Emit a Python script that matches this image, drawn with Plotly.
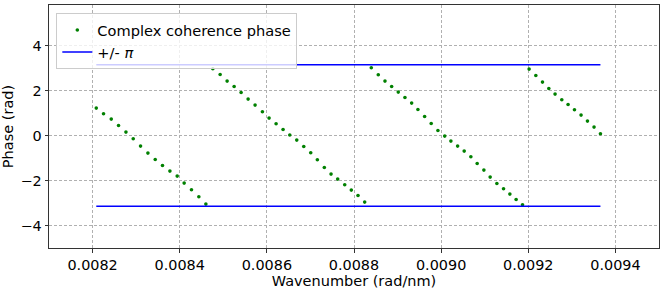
import plotly.graph_objects as go
import math

# Wavenumber (rad/nm) of each sample, four wrapped segments
wavenumber = [
    0.0082085, 0.0082252, 0.0082429, 0.0082596, 0.0082766, 0.0082933, 0.0083101, 0.0083270,
    0.0083438, 0.0083605, 0.0083775, 0.0083942, 0.0084102, 0.0084270, 0.0084439, 0.0084600,
    0.0084760, 0.0084928, 0.0085088, 0.0085249, 0.0085409, 0.0085570, 0.0085730, 0.0085898,
    0.0086051, 0.0086212, 0.0086372, 0.0086526, 0.0086686, 0.0086847, 0.0087007, 0.0087159,
    0.0087319, 0.0087473, 0.0087626, 0.0087787, 0.0087938, 0.0088092, 0.0088245,
    0.0088397, 0.0088557, 0.0088711, 0.0088864, 0.0089016, 0.0089169, 0.0089323, 0.0089467,
    0.0089621, 0.0089772, 0.0089926, 0.0090082, 0.0090224, 0.0090378, 0.0090529, 0.0090682,
    0.0090827, 0.0090981, 0.0091125, 0.0091279, 0.0091432, 0.0091577, 0.0091721, 0.0091868,
    0.0092019, 0.0092173, 0.0092326, 0.0092471, 0.0092615, 0.0092769, 0.0092913, 0.0093060,
    0.0093211, 0.0093358, 0.0093509, 0.0093656,
]

# Complex coherence phase (rad)
phase = [
    1.218, 0.964, 0.729, 0.444, 0.151, -0.147, -0.471, -0.782,
    -1.067, -1.333, -1.582, -1.804, -2.116, -2.413, -2.724, -3.049,
    2.964, 2.711, 2.418, 2.178, 1.911, 1.618, 1.351, 1.053,
    0.773, 0.520, 0.267, 0.022, -0.204, -0.489, -0.769, -1.080,
    -1.422, -1.716, -1.938, -2.191, -2.427, -2.667, -2.960,
    3.009, 2.698, 2.418, 2.178, 1.929, 1.689, 1.440, 1.156,
    0.844, 0.533, 0.222, -0.027, -0.249, -0.471, -0.693, -0.947,
    -1.244, -1.538, -1.849, -2.133, -2.369, -2.604, -2.844, -3.080,
    2.951, 2.667, 2.373, 2.089, 1.840, 1.587, 1.378, 1.142,
    0.907, 0.640, 0.373, 0.076,
]

x_ticks = [0.0082, 0.0084, 0.0086, 0.0088, 0.0090, 0.0092, 0.0094]
x_tick_labels = ["0.0082", "0.0084", "0.0086", "0.0088", "0.0090", "0.0092", "0.0094"]
y_ticks = [-4, -2, 0, 2, 4]
y_tick_labels = ["\u22124", "\u22122", "0", "2", "4"]

k_span = [wavenumber[0], wavenumber[-1]]
pi_upper = [math.pi, math.pi]
pi_lower = [-math.pi, -math.pi]

FONT = "DejaVu Sans"

fig = go.Figure()
fig.add_trace(go.Scatter(
    x=wavenumber, y=phase, mode="markers", name="Complex coherence phase",
    marker=dict(color="#008000", size=3.6),
))
fig.add_trace(go.Scatter(
    x=k_span, y=pi_upper, mode="lines", name="+/- <i>\u03c0</i>",
    line=dict(color="#0000ff", width=1.5), legendgroup="pi",
))
fig.add_trace(go.Scatter(
    x=k_span, y=pi_lower, mode="lines", name="+/- <i>\u03c0</i>",
    line=dict(color="#0000ff", width=1.5), legendgroup="pi", showlegend=False,
))

grid_dash = "3px,2px"
fig.update_layout(
    width=665, height=290,
    margin=dict(l=49, r=6, t=5, b=42),
    paper_bgcolor="white", plot_bgcolor="white",
    font=dict(family=FONT, size=14.4, color="black"),
    showlegend=True,
    legend=dict(
        x=0.012, y=0.967, xanchor="left", yanchor="top",
        bgcolor="rgba(255,255,255,0.8)", bordercolor="#cccccc", borderwidth=1,
        font=dict(family=FONT, size=14.6, color="black"),
        tracegroupgap=0, itemwidth=30,
    ),
    xaxis=dict(
        range=[0.0081, 0.0095], tickvals=x_ticks, ticktext=x_tick_labels,
        showgrid=True, gridcolor="#b0b0b0", griddash=grid_dash, gridwidth=1,
        zeroline=False, showline=True, linecolor="#333333", linewidth=1, mirror=True,
        ticks="outside", ticklen=3.5, tickcolor="#333333", automargin=False,
        tickfont=dict(size=14.4),
        title=dict(text="Wavenumber (rad/nm)", standoff=4, font=dict(size=14.5)),
    ),
    yaxis=dict(
        range=[-5, 5.8], tickvals=y_ticks, ticktext=y_tick_labels,
        showgrid=True, gridcolor="#b0b0b0", griddash=grid_dash, gridwidth=1,
        zeroline=False, showline=True, linecolor="#333333", linewidth=1, mirror=True,
        ticks="outside", ticklen=3.5, tickcolor="#333333", automargin=False,
        tickfont=dict(size=14.4),
        title=dict(text="Phase (rad)", standoff=6, font=dict(size=14.5)),
    ),
)

fig.write_html(
    "out.html",
    config={"displayModeBar": False},
    post_script="document.body.style.margin='0';document.body.style.overflow='hidden';",
)
